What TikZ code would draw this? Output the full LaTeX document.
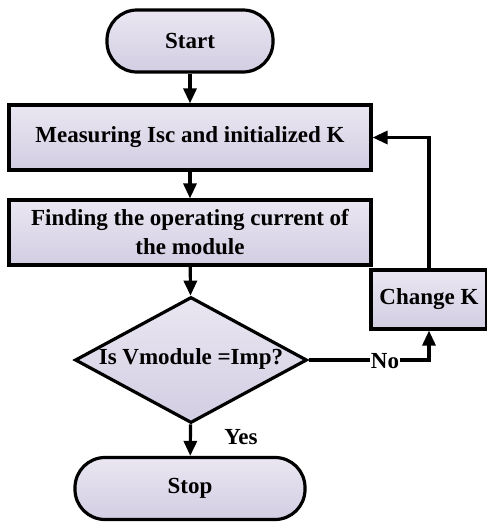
\documentclass[tikz,border=0pt]{standalone}
\usepackage{fontspec}
\setmainfont{Liberation Serif}
\usetikzlibrary{shapes.geometric,arrows.meta}
\definecolor{lavtop}{RGB}{234,231,242}
\definecolor{lavbot}{RGB}{210,205,226}
\newcommand{\flatlabel}[1]{\smash{\makebox[0pt]{#1}}}
\tikzset{
  base/.style={draw=black, line width=3.2pt, top color=lavtop, bottom color=lavbot,
    font=\fontsize{23}{29}\selectfont\bfseries, align=center, inner sep=0pt},
  terminal/.style={base, rectangle, rounded corners=30pt, minimum height=62pt},
  process/.style={base, rectangle, minimum height=65pt},
  decision/.style={base, diamond, minimum width=232pt, minimum height=126pt},
  flow/.style={line width=3.2pt, -{Triangle[length=15pt,width=13pt]}},
  label/.style={font=\fontsize{23}{27}\selectfont\bfseries}
}
\begin{document}
\begin{tikzpicture}[x=1pt,y=-1pt]
  \useasboundingbox (0,0) rectangle (487,523);
  \node[terminal, minimum width=166pt] (start) at (190,41) {Start};
  \node[process, minimum width=362pt] (measure) at (190,137.5) {Measuring Isc and initialized K};
  \node[process, minimum width=362pt] (find) at (190,232.5) {Finding the operating current of\\the module};
  \node[decision] (check) at (191,360) {\raisebox{-0.42em}{\flatlabel{Is Vmodule =Imp?}}};
  \node[terminal, minimum width=230pt] (stop) at (190,488.5) {Stop};
  \node[process, minimum width=116pt, minimum height=59pt] (change) at (429,299.5) {Change K};
  \coordinate (turn) at (change.south |- check.east);

  \draw[flow] (start) -- (measure);
  \draw[flow] (measure) -- (find);
  \draw[flow] (find) -- (check);
  \draw[flow] (check) -- (stop);
  \node[label] (yes) at (241,437) {Yes};
  \draw[flow] (check.east) -- (turn) -- (change.south);
  \node[label, fill=white, inner sep=1pt] (no) at (385,361) {No};
  \draw[flow] (change.north) |- (measure.east);
\end{tikzpicture}
\end{document}
